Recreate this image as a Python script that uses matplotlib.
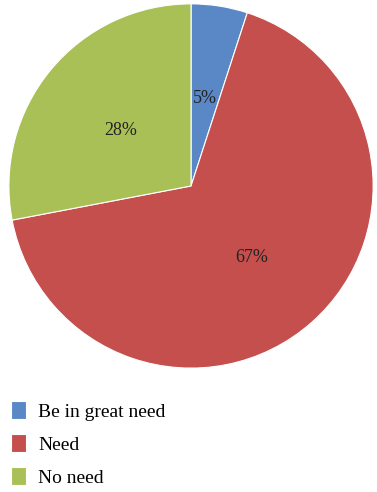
import matplotlib.pyplot as plt

labels = ['Be in great need', 'Need', 'No need']
shares = [5, 67, 28]
colors = ['#5a88c6', '#c44f4c', '#a9c057']

plt.rcParams['font.family'] = ['Liberation Serif', 'DejaVu Serif']

fig = plt.figure(figsize=(3.77, 4.92), dpi=100)
ax = fig.add_axes([0.0212, 0.25, 0.971, 0.744])

wedges, texts, autotexts = ax.pie(
    shares, colors=colors, startangle=90, counterclock=False,
    autopct='%d%%', pctdistance=0.5,
    wedgeprops=dict(edgecolor='white', linewidth=0.8),
    textprops=dict(fontsize=13, color='#222222'))
for t in autotexts:
    x, y = t.get_position()
    t.set_position((x, y - 0.015))
ax.set_aspect('equal')
ax.set_xlim(-1.005, 1.005)
ax.set_ylim(-1.005, 1.005)

fig.legend(wedges, labels, loc='upper left', bbox_to_anchor=(0.0, 0.206),
           frameon=False, fontsize=14, handlelength=0.8, handleheight=1.0,
           handletextpad=0.6, labelspacing=0.7, borderaxespad=0.15)

fig.savefig('out.png', dpi=100)
